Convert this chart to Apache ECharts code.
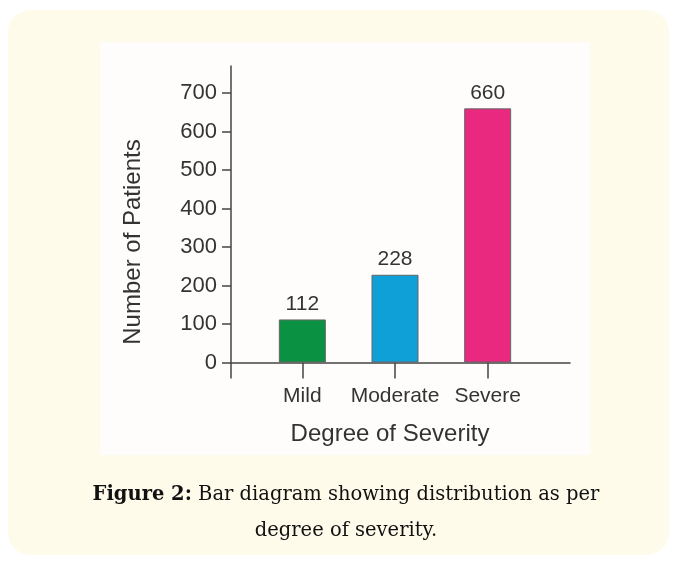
<!DOCTYPE html>
<html>
<head>
<meta charset="utf-8">
<script src="https://cdn.jsdelivr.net/npm/echarts@6/dist/echarts.min.js"></script>
<style>
  body { margin: 0; width: 677px; height: 568px; background: #fff; position: relative; overflow: hidden; }
  .card { position: absolute; left: 8px; top: 10px; width: 661px; height: 545px; background: #fffbea; border-radius: 22px; }
  .panel { position: absolute; left: 100px; top: 42px; width: 490px; height: 413px; background: #fefdfb; }
  #chart { position: absolute; left: 0; top: 0; width: 677px; height: 568px; }
  .caption { position: absolute; left: 46px; top: 476px; width: 600px; text-align: center; white-space: nowrap;
    font-family: "DejaVu Serif", serif; font-size: 19.5px; line-height: 36px; color: #111; }
</style>
</head>
<body>
<div class="card"></div>
<div class="panel"></div>
<div id="chart"></div>
<div class="caption"><b>Figure 2:</b> Bar diagram showing distribution as per<br>degree of severity.</div>
<script>
  // data
  var categories = ['Mild', 'Moderate', 'Severe'];
  var patients = [112, 228, 660];
  var barColors = ['#0b9142', '#0ea0d7', '#e8297f'];
  var yTicks = [0, 100, 200, 300, 400, 500, 600, 700];

  var font = '"Liberation Sans", Arial, sans-serif';
  var axisColor = '#444';

  var chart = echarts.init(document.getElementById('chart'));

  var option = {
    animation: false,
    textStyle: { fontFamily: font },
    grid: [
      { left: 231, top: 66, width: 339, height: 312 },
      { left: 256, top: 66, width: 278, height: 312 }
    ],
    xAxis: [
      {
        gridIndex: 0,
        type: 'value',
        min: 0,
        max: 1,
        axisLine: { show: true, onZero: true, lineStyle: { color: axisColor, width: 1.5 } },
        axisTick: { show: false },
        axisLabel: { show: false },
        splitLine: { show: false }
      },
      {
        gridIndex: 1,
        type: 'category',
        data: categories,
        axisLine: { show: true, onZero: true, lineStyle: { color: 'rgba(0,0,0,0)' } },
        axisTick: { show: true, interval: 0, alignWithLabel: true, length: 16, lineStyle: { color: axisColor, width: 1.5 } },
        axisLabel: { interval: 0, hideOverlap: false, margin: 8, fontSize: 21, color: '#333', fontFamily: font },
        name: 'Degree of Severity',
        nameLocation: 'middle',
        nameGap: 44,
        nameTextStyle: { fontSize: 24, color: '#333', fontFamily: font, padding: [0, 10, 0, 0] }
      }
    ],
    yAxis: [
      {
        gridIndex: 0,
        type: 'value',
        min: -40,
        max: 770,
        axisLine: { show: true, lineStyle: { color: axisColor, width: 1.5 } },
        axisTick: { show: true, length: 9, customValues: yTicks, lineStyle: { color: axisColor, width: 1.5 } },
        axisLabel: { customValues: yTicks, margin: 14, fontSize: 22, color: '#333', fontFamily: font },
        splitLine: { show: false },
        name: 'Number of Patients',
        nameLocation: 'middle',
        nameGap: 86,
        nameTextStyle: { fontSize: 24, color: '#333', fontFamily: font, padding: [0, 40, 0, 0] }
      },
      {
        gridIndex: 1,
        type: 'value',
        min: -40,
        max: 770,
        show: false,
        splitLine: { show: false }
      }
    ],
    series: [
      {
        type: 'bar',
        xAxisIndex: 1,
        yAxisIndex: 1,
        barWidth: 47,
        data: patients.map(function (v, i) {
          return { value: v, itemStyle: { color: barColors[i] } };
        }),
        itemStyle: { borderColor: '#666', borderWidth: 1 },
        label: { show: true, position: 'top', distance: 5, fontSize: 21, color: '#333', fontFamily: font }
      }
    ]
  };

  chart.setOption(option);
</script>
</body>
</html>
